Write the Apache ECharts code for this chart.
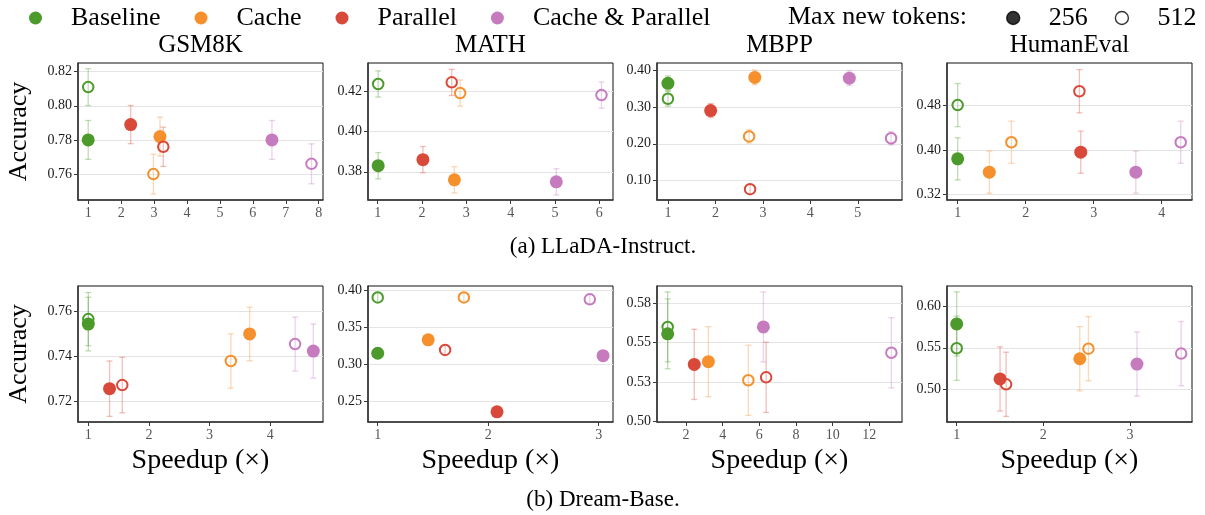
<!DOCTYPE html>
<html><head><meta charset="utf-8">
<script src="https://cdn.jsdelivr.net/npm/echarts@6/dist/echarts.min.js"></script>
<style>html,body{margin:0;padding:0;background:#fff}#c{width:1205px;height:515px}</style>
</head><body><div id="c"></div><script>
// ---------- data ----------
const methods = ['Baseline', 'Cache', 'Parallel', 'Cache & Parallel'];
const benchmarks = ['GSM8K', 'MATH', 'MBPP', 'HumanEval'];
const tokenLengths = ['256', '512'];
const rowCaptions = ['(a) LLaDA-Instruct.', '(b) Dream-Base.'];

// LLaDA-Instruct: one row per benchmark, one column per method
const lladaSpeed256 = [
  [1.00, 3.18, 2.29, 6.58],
  [1.01, 2.73, 2.02, 5.03],
  [1.00, 2.83, 1.90, 4.82],
  [1.00, 1.465, 2.81, 3.62]
];
const lladaAcc256 = [
  [0.780, 0.782, 0.789, 0.780],
  [0.383, 0.376, 0.386, 0.375],
  [0.364, 0.380, 0.290, 0.378],
  [0.384, 0.360, 0.396, 0.360]
];
const lladaSpeed512 = [
  [1.00, 2.98, 3.28, 7.78],
  [1.01, 2.86, 2.67, 6.05],
  [1.00, 2.71, 2.73, 5.70],
  [1.00, 1.79, 2.79, 4.28]
];
const lladaAcc512 = [
  [0.811, 0.760, 0.776, 0.766],
  [0.4235, 0.419, 0.4243, 0.418],
  [0.322, 0.220, 0.077, 0.215],
  [0.481, 0.414, 0.506, 0.414]
];
const lladaErr256 = [
  [0.0114, 0.0114, 0.0112, 0.0114],
  [0.0065, 0.0065, 0.0065, 0.0065],
  [0.020, 0.020, 0.019, 0.020],
  [0.038, 0.038, 0.038, 0.038]
];
const lladaErr512 = [
  [0.0108, 0.0117, 0.0115, 0.0117],
  [0.0065, 0.0065, 0.0065, 0.0065],
  [0.020, 0.018, 0.012, 0.018],
  [0.039, 0.038, 0.039, 0.038]
];
const lladaXTicks = [[1, 2, 3, 4, 5, 6, 7, 8], [1, 2, 3, 4, 5, 6], [1, 2, 3, 4, 5], [1, 2, 3, 4]];
const lladaYTicks = [[0.76, 0.78, 0.80, 0.82], [0.38, 0.40, 0.42], [0.10, 0.20, 0.30, 0.40], [0.32, 0.40, 0.48]];
const lladaYLabels = [['0.76', '0.78', '0.80', '0.82'], ['0.38', '0.40', '0.42'], ['0.10', '0.20', '0.30', '0.40'], ['0.32', '0.40', '0.48']];

// Dream-Base
const dreamSpeed256 = [
  [1.00, 3.66, 1.35, 4.71],
  [1.00, 1.457, 2.08, 3.04],
  [1.00, 3.22, 2.45, 6.22],
  [1.00, 2.42, 1.50, 3.08]
];
const dreamAcc256 = [
  [0.7542, 0.7498, 0.7255, 0.7422],
  [0.3155, 0.3336, 0.2364, 0.3122],
  [0.5555, 0.5378, 0.5361, 0.5599],
  [0.579, 0.5367, 0.5122, 0.5303]
];
const dreamSpeed512 = [
  [1.00, 3.35, 1.56, 4.41],
  [1.00, 1.78, 1.61, 2.92],
  [1.00, 5.40, 6.37, 13.2],
  [1.00, 2.52, 1.57, 3.59]
];
const dreamAcc512 = [
  [0.7564, 0.7378, 0.7271, 0.7453],
  [0.391, 0.391, 0.320, 0.3884],
  [0.5599, 0.526, 0.5279, 0.5435],
  [0.5495, 0.549, 0.5057, 0.543]
];
const dreamErr256 = [
  [0.0119, 0.0119, 0.0123, 0.0120],
  [0.0066, 0.0067, 0.0060, 0.0066],
  [0.0222, 0.0223, 0.0223, 0.0222],
  [0.039, 0.039, 0.039, 0.039]
];
const dreamErr512 = [
  [0.0118, 0.0121, 0.0123, 0.0120],
  [0.0069, 0.0069, 0.0066, 0.0069],
  [0.0222, 0.0223, 0.0223, 0.0223],
  [0.039, 0.039, 0.039, 0.039]
];
const dreamXTicks = [[1, 2, 3, 4], [1, 2, 3], [2, 4, 6, 8, 10, 12], [1, 2, 3]];
const dreamYTicks = [[0.72, 0.74, 0.76], [0.25, 0.30, 0.35, 0.40], [0.500, 0.525, 0.550, 0.575], [0.50, 0.55, 0.60]];
const dreamYLabels = [['0.72', '0.74', '0.76'], ['0.25', '0.30', '0.35', '0.40'], ['0.50', '0.53', '0.55', '0.58'], ['0.50', '0.55', '0.60']];

// ---------- layout / style ----------
const colors = ['#4b9a2b', '#f5902d', '#d9493a', '#c77bbf'];
const errColors = ['rgba(75,154,43,0.35)', 'rgba(245,144,45,0.35)', 'rgba(217,73,58,0.35)', 'rgba(199,123,191,0.35)'];
const FONT = 'Liberation Serif';
const panelLeft = [78, 368, 657, 947];
const panelWidth = 245;
const rowTop = [63, 286];
const rowHeight = [137, 136];
const rangeX = [
  [[0.69, 8.13], [0.78, 6.31], [0.77, 5.93], [0.843, 4.446]],
  [[0.83, 4.87], [0.912, 3.13], [0.418, 13.78], [0.888, 3.715]]
];
const rangeY = [
  [[0.7448, 0.8251], [0.366, 0.4339], [0.0477, 0.419], [0.3097, 0.557]],
  [[0.7107, 0.7711], [0.2226, 0.4064], [0.4995, 0.5859], [0.4599, 0.6251]]
];

const rows = [
  { s256: lladaSpeed256, a256: lladaAcc256, s512: lladaSpeed512, a512: lladaAcc512, e256: lladaErr256, e512: lladaErr512, xt: lladaXTicks, yt: lladaYTicks, yl: lladaYLabels },
  { s256: dreamSpeed256, a256: dreamAcc256, s512: dreamSpeed512, a512: dreamAcc512, e256: dreamErr256, e512: dreamErr512, xt: dreamXTicks, yt: dreamYTicks, yl: dreamYLabels }
];

const grids = [], xAxes = [], yAxes = [], series = [], graphics = [];

rows.forEach((row, r) => {
  benchmarks.forEach((bm, b) => {
    const gi = r * 4 + b;
    grids.push({ left: panelLeft[b], top: rowTop[r], width: panelWidth, height: rowHeight[r],
      show: true, borderColor: '#111', borderWidth: 1, backgroundColor: 'transparent', containLabel: false });
    xAxes.push({
      gridIndex: gi, type: 'value', min: rangeX[r][b][0], max: rangeX[r][b][1],
      axisLine: { show: true, onZero: false, lineStyle: { color: '#3a3a3a', width: 1.6 } },
      axisTick: { show: true, length: 4, customValues: row.xt[b], lineStyle: { color: '#3a3a3a', width: 1 } },
      axisLabel: { customValues: row.xt[b], color: '#555', fontSize: 14, fontFamily: FONT, margin: 6 },
      splitLine: { show: false },
      name: r === 1 ? 'Speedup (×)' : '', nameLocation: 'middle', nameGap: 25,
      nameTextStyle: { fontSize: 28, fontFamily: FONT, color: '#000' }
    });
    const ticks = row.yt[b], labels = row.yl[b];
    yAxes.push({
      gridIndex: gi, type: 'value', min: rangeY[r][b][0], max: rangeY[r][b][1],
      axisLine: { show: true, onZero: false, lineStyle: { color: '#3a3a3a', width: 1.6 } },
      axisTick: { show: true, length: 4, customValues: ticks, lineStyle: { color: '#3a3a3a', width: 1 } },
      axisLabel: { customValues: ticks, color: '#1a1a1a', fontSize: 14, fontFamily: FONT, margin: 6,
        formatter: v => { const i = ticks.findIndex(t => Math.abs(t - v) < 1e-9); return i >= 0 ? labels[i] : ''; } },
      splitLine: { show: true, lineStyle: { color: '#e4e4e4', width: 1.2 } },
      name: b === 0 ? 'Accuracy' : '', nameLocation: 'middle', nameGap: 46, nameRotate: 90,
      nameTextStyle: { fontSize: 26, fontFamily: FONT, color: '#000' }
    });
    // error bars
    const errData = [];
    methods.forEach((m, k) => {
      errData.push([row.s256[b][k], row.a256[b][k], row.e256[b][k], k]);
      errData.push([row.s512[b][k], row.a512[b][k], row.e512[b][k], k]);
    });
    series.push({
      type: 'custom', xAxisIndex: gi, yAxisIndex: gi, z: 2, silent: true, animation: false,
      encode: { x: 0, y: 1 }, data: errData,
      renderItem: (params, api) => {
        const x = api.value(0), y = api.value(1), e = api.value(2), k = api.value(3);
        const p1 = api.coord([x, y + e]), p2 = api.coord([x, y - e]);
        const st = { stroke: errColors[k], lineWidth: 1.3 };
        const cw = 3;
        return { type: 'group', children: [
          { type: 'line', shape: { x1: p1[0], y1: p1[1], x2: p2[0], y2: p2[1] }, style: st },
          { type: 'line', shape: { x1: p1[0] - cw, y1: p1[1], x2: p1[0] + cw, y2: p1[1] }, style: st },
          { type: 'line', shape: { x1: p2[0] - cw, y1: p2[1], x2: p2[0] + cw, y2: p2[1] }, style: st }
        ] };
      }
    });
    // markers
    methods.forEach((m, k) => {
      series.push({
        type: 'scatter', name: m, xAxisIndex: gi, yAxisIndex: gi, z: 3, animation: false,
        itemStyle: { color: colors[k], opacity: 1 },
        emphasis: { disabled: true },
        data: [
          { value: [row.s256[b][k], row.a256[b][k]], symbolSize: 13 },
          { value: [row.s512[b][k], row.a512[b][k]], symbolSize: 10.5,
            itemStyle: { color: 'rgba(255,255,255,0)', borderColor: colors[k], borderWidth: 2 } }
        ]
      });
    });
  });
});

// dummy series for token-length legend
series.push({ type: 'scatter', name: tokenLengths[0], xAxisIndex: 0, yAxisIndex: 0, data: [],
  itemStyle: { color: '#000', borderColor: '#000', borderWidth: 1 } });
series.push({ type: 'scatter', name: tokenLengths[1], xAxisIndex: 0, yAxisIndex: 0, data: [],
  itemStyle: { color: '#fff', borderColor: '#000', borderWidth: 1.4 } });

// titles
benchmarks.forEach((bm, b) => {
  graphics.push({ type: 'text', x: panelLeft[b] + panelWidth / 2, y: 45, silent: true,
    style: { text: bm, font: '25px "' + FONT + '"', fill: '#000', align: 'center', verticalAlign: 'middle' } });
});
graphics.push({ type: 'text', x: 603, y: 247, silent: true,
  style: { text: rowCaptions[0], font: '23px "' + FONT + '"', fill: '#000', align: 'center', verticalAlign: 'middle' } });
graphics.push({ type: 'text', x: 603, y: 500, silent: true,
  style: { text: rowCaptions[1], font: '23px "' + FONT + '"', fill: '#000', align: 'center', verticalAlign: 'middle' } });
graphics.push({ type: 'text', x: 788, y: 17, silent: true,
  style: { text: 'Max new tokens:', font: '26px "' + FONT + '"', fill: '#000', align: 'left', verticalAlign: 'middle' } });

const legendText = { fontSize: 26, fontFamily: FONT, color: '#000', padding: [0, 0, 0, 24] };
const option = {
  animation: false,
  backgroundColor: '#fff',
  textStyle: { fontFamily: FONT },
  grid: grids, xAxis: xAxes, yAxis: yAxes, series: series, graphic: graphics,
  legend: [
    { data: methods.map(m => ({ name: m, icon: 'circle' })), orient: 'horizontal', left: 29, top: 5, padding: 0,
      itemWidth: 13, itemHeight: 13, itemGap: 34, selectedMode: false, textStyle: legendText },
    { data: tokenLengths.map(t => ({ name: t, icon: 'circle' })), orient: 'horizontal',
      left: 1006, top: 5, padding: 0, width: 199, itemWidth: 13, itemHeight: 13, itemGap: 27,
      selectedMode: false, textStyle: legendText, itemStyle: { borderWidth: 1.4 } }
  ]
};
const chart = echarts.init(document.getElementById('c'));
chart.setOption(option);
</script></body></html>
